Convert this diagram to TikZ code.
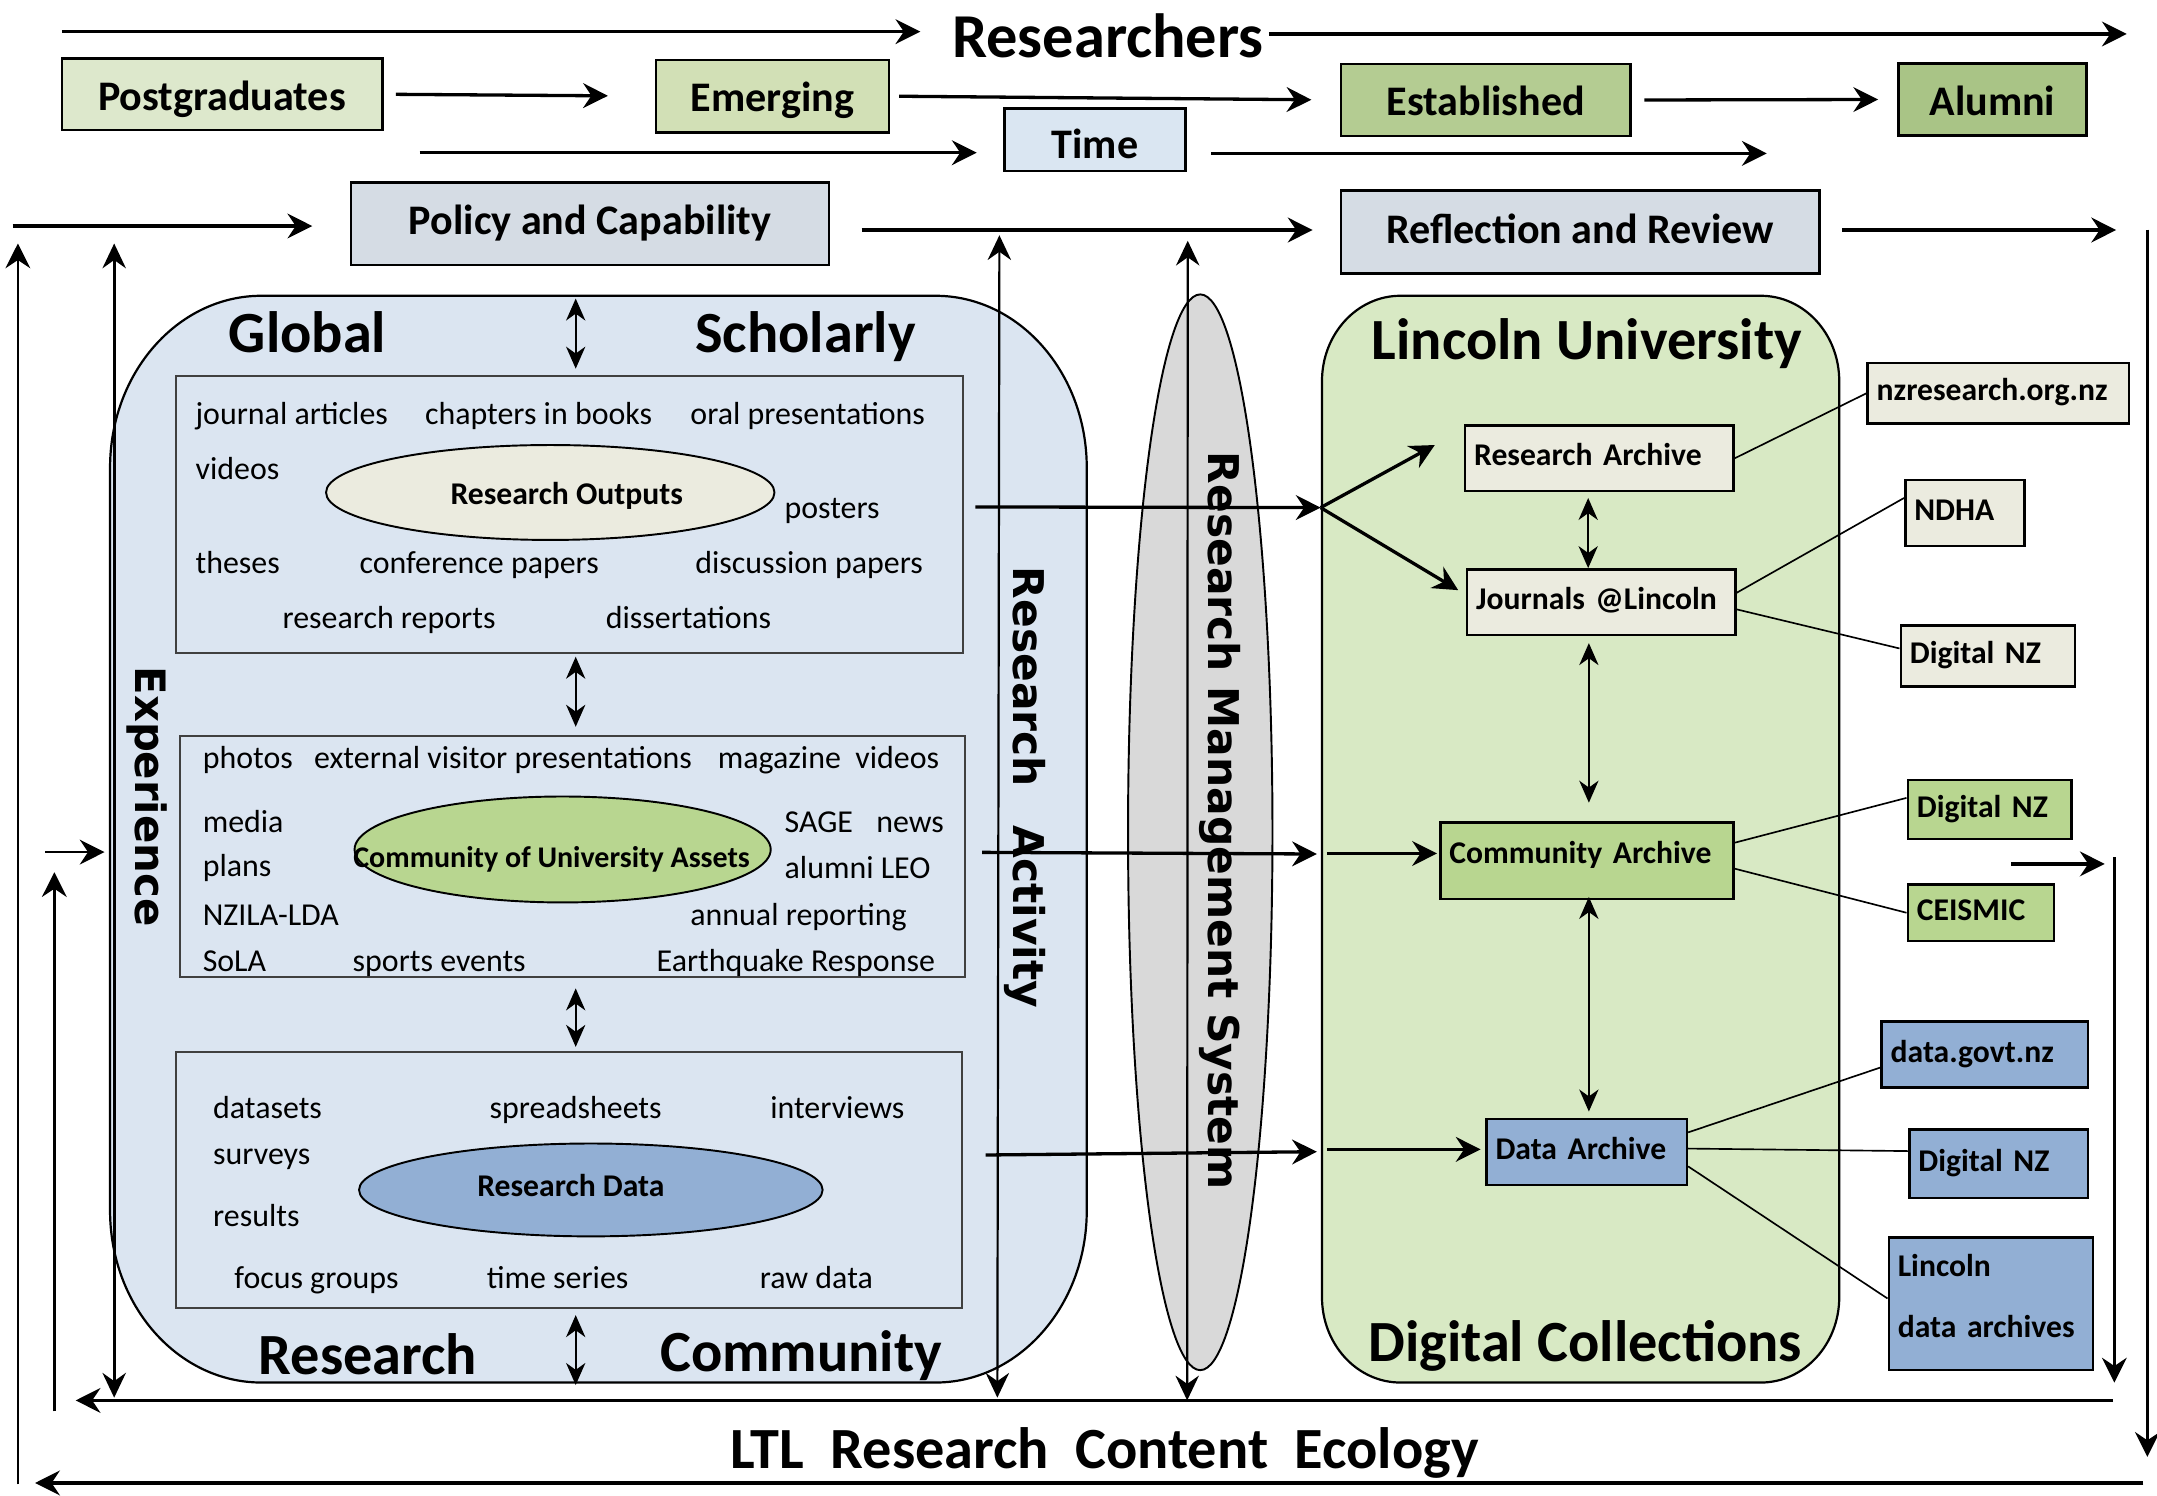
\documentclass[tikz,border=0pt]{standalone}
\usepackage{fontspec}
\setmainfont{Carlito}
\newfontfamily\rotfont{DejaVu Sans}
\usetikzlibrary{arrows.meta,shapes.geometric}
\definecolor{pgC}{HTML}{DDE8CC}
\definecolor{emC}{HTML}{D2E0B6}
\definecolor{estC}{HTML}{B4CC92}
\definecolor{aluC}{HTML}{A9C486}
\definecolor{timeC}{HTML}{DAE6F2}
\definecolor{polC}{HTML}{D5DCE4}
\definecolor{blueBG}{HTML}{DBE5F1}
\definecolor{greenBG}{HTML}{D8E9C4}
\definecolor{grayC}{HTML}{D9D9D9}
\definecolor{creamC}{HTML}{EBEBDF}
\definecolor{midgreen}{HTML}{B8D690}
\definecolor{midblue}{HTML}{92AFD4}
\begin{document}
\begin{tikzpicture}[x=0.5pt,y=-0.5pt,
  thk/.style={line width=1.2pt,-{Stealth[length=9pt,width=9pt,inset=3pt]}},
  thkd/.style={line width=1pt,{Stealth[length=9pt,width=8.5pt,inset=3pt]}-{Stealth[length=9pt,width=8.5pt,inset=3pt]}},
  thnd/.style={line width=0.6pt,{Stealth[length=8pt,width=7pt,inset=2.5pt]}-{Stealth[length=8pt,width=7pt,inset=2.5pt]}},
  lnk/.style={line width=0.6pt},
  topbox/.style={draw, line width=0.9pt, inner sep=0pt, font=\fontsize{15.3}{18}\selectfont\bfseries, text height=11.5pt, text depth=0pt},
  heading/.style={font=\fontsize{21.2}{25}\selectfont\bfseries, inner sep=0pt, anchor=base west},
  small/.style={font=\fontsize{11.6}{14}\selectfont, inner sep=0pt, anchor=base west},
  frame/.style={draw=black!75, line width=0.7pt, fill=blueBG, inner sep=0pt},
  oval/.style={ellipse, draw, line width=0.7pt, inner sep=0pt},
  ovaltext/.style={font=\fontsize{11.5}{14}\selectfont\bfseries, inner sep=0pt, anchor=base},
  arch/.style={draw, line width=0.9pt, inner xsep=3.3pt, inner ysep=0pt, align=left, font=\fontsize{11.5}{22}\selectfont\bfseries},
  one/.style={text height=8pt, text depth=2.5pt},
  rot/.style={font=\rotfont\bfseries\fontsize{15.4}{18}\selectfont, rotate=-90, inner sep=0pt}
]
\fill[white] (0,0) rectangle (1568,1087);
\useasboundingbox (0,0) rectangle (1568,1087);

% ---------- containers ----------
\draw[fill=blueBG, line width=0.8pt] (190,215) -- (680,215)
  arc[start angle=90,end angle=0,x radius=55pt,y radius=62.5pt] -- (790,880)
  arc[start angle=0,end angle=-90,x radius=55pt,y radius=62.5pt] -- (190,1005)
  arc[start angle=270,end angle=180,x radius=55pt,y radius=62.5pt] -- (80,340)
  arc[start angle=180,end angle=90,x radius=55pt,y radius=62.5pt] -- cycle;
\draw[fill=greenBG, line width=0.8pt] (1018,215) -- (1280,215)
  arc[start angle=90,end angle=0,x radius=28.5pt,y radius=31pt] -- (1337,943)
  arc[start angle=0,end angle=-90,x radius=28.5pt,y radius=31pt] -- (1018,1005)
  arc[start angle=270,end angle=180,x radius=28.5pt,y radius=31pt] -- (961,277)
  arc[start angle=180,end angle=90,x radius=28.5pt,y radius=31pt] -- cycle;
\draw[fill=grayC, line width=0.7pt] (872.5,605) ellipse [x radius=26.25pt, y radius=195.5pt];

% ---------- inner frames and ovals ----------
\node[frame, minimum width=286pt, minimum height=101pt] (b1) at (414,374) {};
\node[frame, minimum width=285.25pt, minimum height=87.5pt] (b2) at (416.25,622.5) {};
\node[frame, minimum width=285.5pt, minimum height=93pt] (b3) at (413.5,858) {};
\node[oval, fill=creamC, minimum width=163pt, minimum height=34.5pt] (ro) at (400,358) {};
\node[oval, fill=midgreen, minimum width=151.25pt, minimum height=38.5pt] (cua) at (409,617.5) {};
\node[oval, fill=midblue, minimum width=168.5pt, minimum height=33.75pt] (rd) at (429.5,865) {};
\node[ovaltext] (rot1) at (412,367) {Research Outputs};
\node[ovaltext, font=\fontsize{10.9}{13}\selectfont\bfseries] (cuat) at (401,630.5) {Community of University Assets};
\node[ovaltext] (rdt) at (415,869.5) {Research Data};

% ---------- top boxes ----------
\node[font=\fontsize{22.7}{27}\selectfont\bfseries, inner sep=0pt, anchor=base] (res) at (805.4,41.5) {Researchers};
\node[topbox, fill=pgC, minimum width=116.5pt, minimum height=26pt] (pg) at (161.4,68.5) {Postgraduates};
\node[topbox, fill=emC, minimum width=84.65pt, minimum height=26.3pt] (em) at (561.45,69.9) {Emerging};
\node[topbox, fill=estC, minimum width=105.2pt, minimum height=26.2pt] (est) at (1080,72.7) {Established};
\node[topbox, fill=aluC, minimum width=68.2pt, minimum height=26.3pt] (alu) at (1448.4,72.3) {Alumni};
\node[topbox, fill=timeC, minimum width=65.75pt, minimum height=22.65pt, text height=14pt, text depth=0pt] (time) at (796,101.5) {Time};
\node[topbox, fill=polC, minimum width=173.9pt, minimum height=29.9pt, text height=9pt, text depth=1pt] (pol) at (428.9,162.7) {Policy and Capability};
\node[topbox, fill=polC, minimum width=173.95pt, minimum height=30pt, text height=9pt, text depth=1pt] (ref) at (1148.75,168.65) {Reflection and Review};

% ---------- archives ----------
\node[arch, one, fill=creamC, text width=90.9pt, minimum height=23.8pt] (ra) at (1162.5,333.2) {Research Archive};
\node[arch, one, fill=creamC, text width=90.9pt, minimum height=23.8pt] (jl) at (1164,437.8) {Journals @Lincoln};
\node[arch, fill=midgreen, text width=99.9pt, minimum height=27.75pt, text height=4.5pt, text depth=2.5pt] (ca) at (1153.5,625.8) {Community Archive};
\node[arch, one, fill=midblue, text width=66.25pt, minimum height=24pt] (da) at (1153.4,837.5) {Data Archive};
\node[arch, one, fill=creamC, text width=88.35pt, minimum height=21.85pt] (nz) at (1452.6,285.9) {nzresearch.org.nz};
\node[arch, one, fill=creamC, text width=36.65pt, minimum height=24pt] (ndha) at (1428.25,373) {NDHA};
\node[arch, one, fill=creamC, text width=56.8pt, minimum height=22.2pt] (dnz1) at (1445.1,477) {Digital NZ};
\node[arch, one, fill=midgreen, text width=52.95pt, minimum height=21.5pt] (dnz2) at (1446.35,588.5) {Digital NZ};
\node[arch, one, fill=midgreen, text width=46.5pt, minimum height=20.5pt] (cei) at (1439.9,663.5) {CEISMIC};
\node[arch, one, fill=midblue, text width=68.35pt, minimum height=24pt] (dg) at (1442.75,766.7) {data.govt.nz};
\node[arch, one, fill=midblue, text width=58.3pt, minimum height=25pt] (dnz3) at (1452.8,846) {Digital NZ};
\node[arch, fill=midblue, text width=67.55pt, minimum height=48.15pt] (lda) at (1447.15,947.85) {Lincoln\\data archives\rule[-6pt]{0pt}{1pt}};

% ---------- coordinates for free ends ----------
\coordinate (ra1) at (45,23);      \coordinate (ra2) at (669,23);
\coordinate (rb1) at (922.4,24.7); \coordinate (rb2) at (1546,24.7);
\coordinate (t1a) at (305,111);    \coordinate (t1b) at (710,111);
\coordinate (t2a) at (880.4,111.5);\coordinate (t2b) at (1284.3,111.5);
\coordinate (p1a) at (9.2,164.3);  \coordinate (p1b) at (227,164.3);
\coordinate (p2a) at (626.3,167.2);\coordinate (p2b) at (954.2,167.2);
\coordinate (p3a) at (1339.1,167.2);\coordinate (p3b) at (1538.3,167.2);
\coordinate (l1b) at (13,1079);    \coordinate (l1t) at (13,177);
\coordinate (l2t) at (83,177);     \coordinate (l2b) at (83,1016);
\coordinate (l3b) at (39.5,1026);  \coordinate (l3t) at (39.5,634);
\coordinate (ex0) at (33,619.4);   \coordinate (ex1) at (76,619.4);
\coordinate (b1r) at (1536,1018);  \coordinate (b1l) at (55,1018);
\coordinate (b2r) at (1558,1078);  \coordinate (b2l) at (25.5,1078);
\coordinate (r1t) at (1561,167);   \coordinate (r1b) at (1561,1059);
\coordinate (r2t) at (1537,623);   \coordinate (r2b) at (1537,1005);
\coordinate (sa0) at (1462,628);   \coordinate (sa1) at (1530,628);
\coordinate (v1t) at (726.5,171);  \coordinate (v1b) at (725,1016);
\coordinate (v2t) at (863.4,175);  \coordinate (v2b) at (863,1018);
\coordinate (d1a) at (418.5,217);  \coordinate (d1b) at (418.5,268);
\coordinate (d2a) at (418.5,477.4);\coordinate (d2b) at (418.5,528.3);
\coordinate (d3a) at (418.5,718.5);\coordinate (d3b) at (418.5,761);
\coordinate (d4a) at (418.5,956);  \coordinate (d4b) at (418.5,1006.8);
\coordinate (o1a) at (709,368.5);  \coordinate (br) at (960,369);
\coordinate (bra) at (1043,323.5); \coordinate (brj) at (1060,429);
\coordinate (o2a) at (714,619.6);  \coordinate (o2b) at (957.3,620.8);
\coordinate (c0) at (964.5,620.4); \coordinate (c1) at (1044.6,620.4);
\coordinate (o3a) at (716.5,839.6);\coordinate (o3b) at (957.3,837.2);
\coordinate (dd0) at (964.5,835.5);\coordinate (dd1) at (1076.3,835.5);
\coordinate (g1a) at (1154.5,362); \coordinate (g1b) at (1154.5,413);
\coordinate (g2a) at (1155,467.5); \coordinate (g2b) at (1155,583.5);
\coordinate (g3a) at (1155,652);   \coordinate (g3b) at (1155,808);

% ---------- connectors ----------
\draw[thk] (ra1) -- (ra2);
\draw[thk] (rb1) -- (rb2);
\draw[thk, shorten <=4.5pt, shorten >=17pt] (pg.east) -- (em.west);
\draw[thk, shorten <=3.3pt, shorten >=10.3pt] (em.east) -- (est.west);
\draw[thk, shorten <=4.6pt, shorten >=7pt] (est.east) -- (alu.west);
\draw[thk] (t1a) -- (t1b);
\draw[thk] (t2a) -- (t2b);
\draw[thk] (p1a) -- (p1b);
\draw[thk] (p2a) -- (p2b);
\draw[thk] (p3a) -- (p3b);
\draw[thk, line width=1pt] (l1b) -- (l1t);
\draw[thkd] (l2t) -- (l2b);
\draw[thk, line width=1pt] (l3b) -- (l3t);
\draw[thk, line width=1pt] (ex0) -- (ex1);
\draw[thk] (b1r) -- (b1l);
\draw[thk] (b2r) -- (b2l);
\draw[thk, line width=1pt] (r1t) -- (r1b);
\draw[thk, line width=1pt] (r2t) -- (r2b);
\draw[thk] (sa0) -- (sa1);
\draw[thkd, line width=0.8pt] (v1t) -- (v1b);
\draw[thkd, line width=0.8pt] (v2t) -- (v2b);
\draw[thnd] (d1a) -- (d1b);
\draw[thnd] (d2a) -- (d2b);
\draw[thnd] (d3a) -- (d3b);
\draw[thnd] (d4a) -- (d4b);
\draw[thk] (o1a) -- (br);
\draw[thk] (br) -- (bra);
\draw[thk] (br) -- (brj);
\draw[thk] (o2a) -- (o2b);
\draw[thk] (c0) -- (c1);
\draw[thk] (o3a) -- (o3b);
\draw[thk] (dd0) -- (dd1);
\draw[thnd] (g1a) -- (g1b);
\draw[thnd] (g2a) -- (g2b);
\draw[thnd] (g3a) -- (g3b);
\draw[lnk] (ra.east) -- (nz.west);
\draw[lnk] (jl.4) -- (ndha.166);
\draw[lnk] (jl.-3) -- (dnz1.175);
\draw[lnk] (ca.7) -- (dnz2.172);
\draw[lnk] (ca.-3) -- (cei.west);
\draw[lnk] (da.11) -- (dg.187);
\draw[lnk] (da.2) -- (dnz3.172);
\draw[lnk] (da.-8) -- (lda.177);

% ---------- headings ----------
\node[heading] (glob) at (166,256.5) {Global};
\node[heading] (schol) at (505,256.5) {Scholarly};
\node[heading] (resb) at (187.7,999.5) {Research};
\node[heading] (comm) at (479.5,997) {Community};
\node[heading] (lu) at (996.7,261.5) {Lincoln University};
\node[heading] (dc) at (994.3,989.7) {Digital Collections};
\node[heading, font=\fontsize{21.2}{25}\selectfont\bfseries] (ltl) at (530.5,1067.2) {LTL\ \ Research\ \ Content\ \ Ecology};

\node[rot, font=\rotfont\bfseries\fontsize{15.2}{18}\selectfont] (exp) at (107,579) {Experience};
\node[rot] (ract) at (745,572.5) {Research\hspace{14pt}Activity};
\node[rot] (rms) at (887,596.7) {Research Management System};

% ---------- small texts ----------
\node[small] (s1) at (141.8,308.7) {journal articles};
\node[small] (s2) at (308.6,308.7) {chapters in books};
\node[small] (s3) at (501.5,308.7) {oral presentations};
\node[small] (s4) at (141.8,348.6) {videos};
\node[small] (s5) at (570,377) {posters};
\node[small] (s6) at (141.8,416.6) {theses};
\node[small] (s7) at (261,416.6) {conference papers};
\node[small] (s8) at (505,416.6) {discussion papers};
\node[small] (s9) at (205,456.6) {research reports};
\node[small] (s10) at (440,456.6) {dissertations};

\node[small] (c1t) at (147,558.8) {photos};
\node[small] (c2t) at (228,558.8) {external visitor presentations};
\node[small] (c3t) at (521.4,558.8) {magazine};
\node[small] (c4t) at (621.4,558.8) {videos};
\node[small] (c5t) at (147,604.9) {media};
\node[small] (c6t) at (570,604.9) {SAGE};
\node[small] (c7t) at (636.7,604.9) {news};
\node[small] (c8t) at (147,637) {plans};
\node[small] (c9t) at (570,638.3) {alumni LEO};
\node[small] (c10t) at (147,672.7) {NZILA-LDA};
\node[small] (c11t) at (501.5,672.7) {annual reporting};
\node[small] (c12t) at (147,706.2) {SoLA};
\node[small] (c13t) at (256,706.2) {sports events};
\node[small] (c14t) at (477,706.2) {Earthquake Response};

\node[small] (e1) at (154.6,812.8) {datasets};
\node[small] (e2) at (355.6,812.8) {spreadsheets};
\node[small] (e3) at (559.6,812.8) {interviews};
\node[small] (e4) at (154.6,846.7) {surveys};
\node[small] (e5) at (154.6,891.5) {results};
\node[small] (e6) at (170,936.8) {focus groups};
\node[small] (e7) at (353.5,936.8) {time series};
\node[small] (e8) at (552,936.8) {raw data};
\end{tikzpicture}
\end{document}
